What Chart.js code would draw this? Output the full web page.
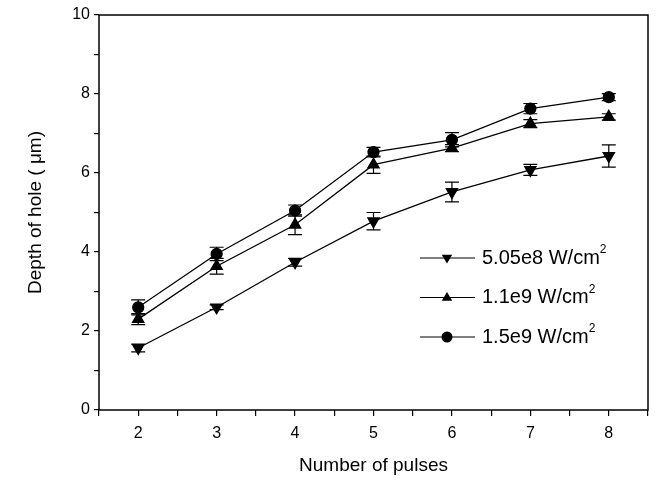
<!DOCTYPE html>
<html>
<head>
<meta charset="utf-8">
<script src="https://cdn.jsdelivr.net/npm/chart.js@4"></script>
<style>
  html, body { margin: 0; padding: 0; background: #fff; }
  #wrap { width: 657px; height: 480px; }
</style>
</head>
<body>
<div id="wrap"><canvas id="grafico"></canvas></div>
<script>
// dados
const pulsos = [2, 3, 4, 5, 6, 7, 8];
const prof505e8 = [1.57, 2.60, 3.74, 4.78, 5.52, 6.08, 6.43];
const erro505e8 = [0.10, 0.06, 0.10, 0.22, 0.25, 0.14, 0.28];
const prof11e9 = [2.30, 3.64, 4.69, 6.21, 6.63, 7.25, 7.42];
const erro11e9 = [0.14, 0.20, 0.25, 0.22, 0.09, 0.10, 0.08];
const prof15e9 = [2.60, 3.95, 5.05, 6.53, 6.84, 7.63, 7.92];
const erro15e9 = [0.19, 0.17, 0.14, 0.12, 0.18, 0.13, 0.09];
const rotulos = ["5.05e8 W/cm", "1.1e9 W/cm", "1.5e9 W/cm"];

const FONTE = "'Liberation Sans', Arial, sans-serif";

const pontos = (ys) => pulsos.map((x, i) => ({ x: x, y: ys[i] }));

const serie = (label, ys, erros, estilo, rot, raio) => ({
    label: label,
    data: pontos(ys),
    erros: erros,
    borderColor: "#000",
    backgroundColor: "#000",
    borderWidth: 1.3,
    pointStyle: estilo,
    rotation: rot,
    pointRadius: raio,
    pointHoverRadius: raio,
    fill: false,
    tension: 0
});

// desenha uma marca (triangulo, triangulo invertido, circulo)
function marca(ctx, estilo, rot, x, y, r) {
    ctx.beginPath();
    if (estilo === "circle") {
        ctx.arc(x, y, r, 0, Math.PI * 2);
    } else {
        const s = rot === 180 ? -1 : 1;
        ctx.moveTo(x, y - s * r);
        ctx.lineTo(x + r * 0.95, y + s * r * 0.6);
        ctx.lineTo(x - r * 0.95, y + s * r * 0.6);
        ctx.closePath();
    }
    ctx.fill();
}

// barras de erro
const barrasErro = {
    id: "barrasErro",
    afterDatasetsDraw(chart) {
        const ctx = chart.ctx;
        const xs = chart.scales.x, ys = chart.scales.y;
        ctx.save();
        ctx.strokeStyle = "#000";
        ctx.lineWidth = 1.2;
        chart.data.datasets.forEach(ds => {
            ds.data.forEach((p, i) => {
                const e = ds.erros[i];
                const px = xs.getPixelForValue(p.x);
                const y1 = ys.getPixelForValue(p.y + e);
                const y2 = ys.getPixelForValue(p.y - e);
                ctx.beginPath();
                ctx.moveTo(px, y1); ctx.lineTo(px, y2);
                ctx.moveTo(px - 7, y1); ctx.lineTo(px + 7, y1);
                ctx.moveTo(px - 7, y2); ctx.lineTo(px + 7, y2);
                ctx.stroke();
            });
        });
        ctx.restore();
    }
};

// moldura + legenda
const moldura = {
    id: "moldura",
    afterDraw(chart) {
        const ctx = chart.ctx;
        const a = chart.chartArea;
        ctx.save();
        ctx.strokeStyle = "#000";
        ctx.lineWidth = 1.5;
        ctx.strokeRect(a.left, a.top, a.right - a.left, a.bottom - a.top);

        // legenda
        const x0 = a.left + 321, y0 = a.top + 243, passo = 39.5;
        ctx.lineWidth = 1.2;
        ctx.fillStyle = "#000";
        chart.data.datasets.forEach((ds, i) => {
            const y = y0 + i * passo;
            ctx.beginPath();
            ctx.moveTo(x0, y); ctx.lineTo(x0 + 55, y);
            ctx.stroke();
            marca(ctx, ds.pointStyle, ds.rotation, x0 + 27, y, 5.5);
            ctx.font = "20px " + FONTE;
            ctx.textBaseline = "middle";
            ctx.textAlign = "left";
            ctx.fillText(ds.label, x0 + 62, y);
            const w = ctx.measureText(ds.label).width;
            ctx.font = "12px " + FONTE;
            ctx.fillText("2", x0 + 62 + w, y - 8);
        });
        ctx.restore();
    }
};

new Chart(document.getElementById("grafico").getContext("2d"), {
    type: "line",
    data: {
        datasets: [
            serie(rotulos[0], prof505e8, erro505e8, "triangle", 180, 6.5),
            serie(rotulos[1], prof11e9, erro11e9, "triangle", 0, 6.5),
            serie(rotulos[2], prof15e9, erro15e9, "circle", 0, 5.5)
        ]
    },
    options: {
        responsive: true,
        maintainAspectRatio: false,
        animation: false,
        layout: { padding: { top: 15, right: 9, left: 0, bottom: 0 } },
        plugins: {
            legend: { display: false },
            tooltip: { enabled: false }
        },
        scales: {
            x: {
                type: "linear",
                min: 1.5,
                max: 8.5,
                afterFit: s => { s.height = 70; },
                grid: { drawOnChartArea: false, drawTicks: true, tickLength: 6, color: "#000", lineWidth: 1.2 },
                border: { display: false },
                ticks: {
                    stepSize: 0.5,
                    autoSkip: false,
                    maxRotation: 0,
                    padding: 8,
                    color: "#000",
                    font: { family: FONTE, size: 16 },
                    callback: v => Number.isInteger(v) ? String(v) : ""
                },
                title: {
                    display: true,
                    text: "Number of pulses",
                    color: "#000",
                    font: { family: FONTE, size: 19 },
                    padding: { top: 0, bottom: 3 }
                }
            },
            y: {
                min: 0,
                max: 10,
                afterFit: s => { s.width = 99; },
                grid: { drawOnChartArea: false, drawTicks: true, tickLength: 5, color: "#000", lineWidth: 1.2 },
                border: { display: false },
                ticks: {
                    stepSize: 1,
                    autoSkip: false,
                    padding: 4,
                    color: "#000",
                    font: { family: FONTE, size: 16 },
                    callback: v => v % 2 === 0 ? String(v) : ""
                },
                title: {
                    display: true,
                    text: "Depth of hole ( μm)",
                    color: "#000",
                    font: { family: FONTE, size: 19 },
                    padding: { top: 24, bottom: 0 }
                }
            }
        }
    },
    plugins: [barrasErro, moldura]
});
</script>
</body>
</html>
